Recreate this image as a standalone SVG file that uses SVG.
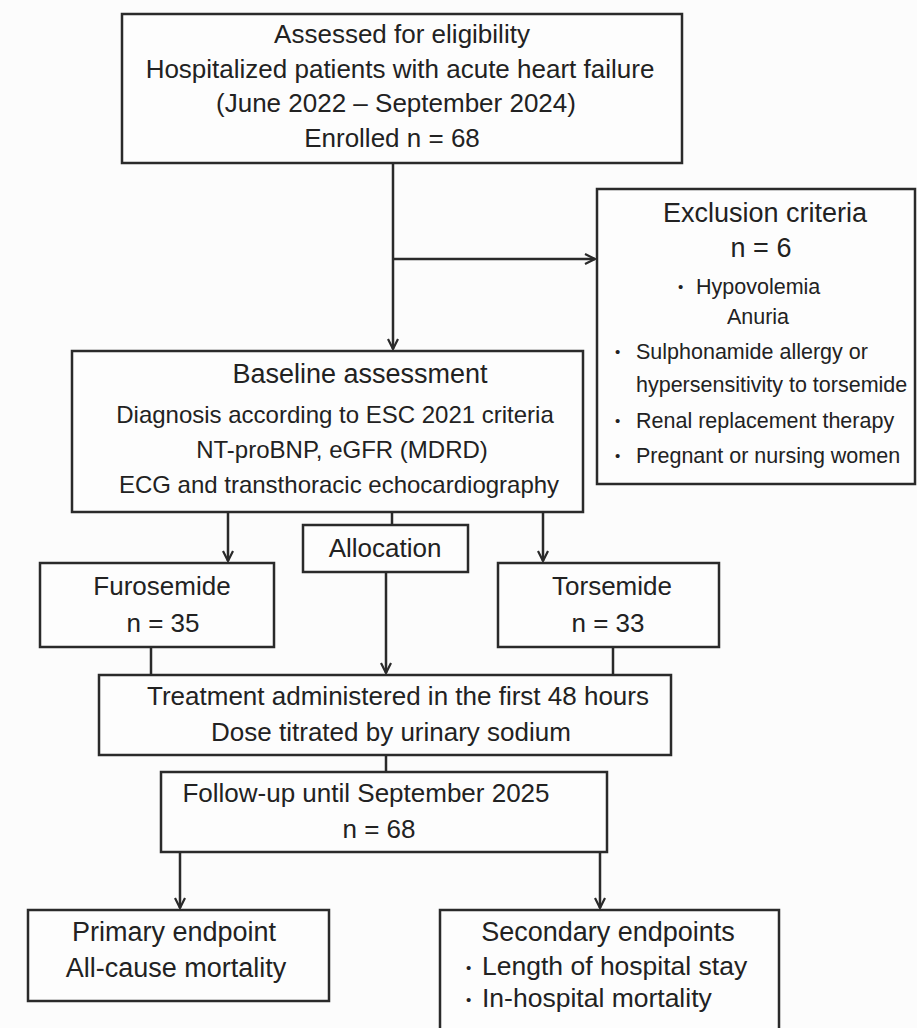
<svg xmlns="http://www.w3.org/2000/svg" width="917" height="1028" viewBox="0 0 917 1028">
<style>
.box{fill:#fdfdfd;stroke:#2a2a2a;stroke-width:2.5}
.t{font-family:"Liberation Sans",Arial,sans-serif;fill:#222;text-anchor:middle}
.s{font-family:"Liberation Sans",Arial,sans-serif;fill:#222}
.b{font-family:"Liberation Sans",Arial,sans-serif;fill:#222;font-size:15px}
.ln{stroke:#2a2a2a;stroke-width:2.5;fill:none}
</style>
<defs>
<marker id="ah" viewBox="0 0 12 12" refX="11" refY="6" markerWidth="12" markerHeight="12" markerUnits="userSpaceOnUse" orient="auto">
<path d="M1,1 L11,6 L1,11" fill="none" stroke="#2a2a2a" stroke-width="2.2"/>
</marker>
</defs>
<rect width="917" height="1028" fill="#fcfcfc"/>
<g id="connectors">
<line class="ln" x1="393" y1="164" x2="393" y2="349" marker-end="url(#ah)"/>
<line class="ln" x1="393" y1="259" x2="595" y2="259" marker-end="url(#ah)"/>
<line class="ln" x1="228" y1="512" x2="228" y2="561" marker-end="url(#ah)"/>
<line class="ln" x1="543" y1="512" x2="543" y2="561" marker-end="url(#ah)"/>
<line class="ln" x1="392" y1="512" x2="392" y2="525"/>
<line class="ln" x1="386" y1="572" x2="386" y2="673" marker-end="url(#ah)"/>
<line class="ln" x1="151" y1="647" x2="151" y2="675"/>
<line class="ln" x1="613" y1="647" x2="613" y2="675"/>
<line class="ln" x1="386" y1="755" x2="386" y2="772"/>
<line class="ln" x1="180" y1="852" x2="180" y2="908" marker-end="url(#ah)"/>
<line class="ln" x1="600" y1="852" x2="600" y2="908" marker-end="url(#ah)"/>
</g>
<g id="eligibility">
<rect class="box" x="122" y="14" width="560" height="149"/>
<text class="t" font-size="26" x="402" y="43">Assessed for eligibility</text>
<text class="t" font-size="26" x="400" y="78">Hospitalized patients with acute heart failure</text>
<text class="t" font-size="26" x="396" y="112">(June 2022 – September 2024)</text>
<text class="t" font-size="26" x="392" y="147">Enrolled n = 68</text>
</g>
<g id="exclusion">
<rect class="box" x="597" y="189" width="318" height="295"/>
<text class="t" font-size="27" x="765" y="222">Exclusion criteria</text>
<text class="t" font-size="27" x="761" y="257">n = 6</text>
<text class="b" x="678" y="292">•</text>
<text class="s" font-size="21.5" x="696" y="294">Hypovolemia</text>
<text class="t" font-size="21.5" x="758" y="324">Anuria</text>
<text class="b" x="615" y="357">•</text>
<text class="s" font-size="21.5" x="636" y="359">Sulphonamide allergy or</text>
<text class="s" font-size="21.5" x="636" y="392">hypersensitivity to torsemide</text>
<text class="b" x="615" y="426">•</text>
<text class="s" font-size="21.5" x="636" y="428">Renal replacement therapy</text>
<text class="b" x="615" y="461">•</text>
<text class="s" font-size="21.5" x="636" y="463">Pregnant or nursing women</text>
</g>
<g id="baseline">
<rect class="box" x="72" y="351" width="511" height="161"/>
<text class="t" font-size="27" x="360" y="383">Baseline assessment</text>
<text class="t" font-size="24" x="335" y="423">Diagnosis according to ESC 2021 criteria</text>
<text class="t" font-size="24" x="342" y="458">NT-proBNP, eGFR (MDRD)</text>
<text class="t" font-size="24" x="339" y="493">ECG and transthoracic echocardiography</text>
</g>
<g id="allocation">
<rect class="box" x="303" y="525" width="165" height="47"/>
<text class="t" font-size="26" x="385" y="557">Allocation</text>
</g>
<g id="furosemide">
<rect class="box" x="40" y="563" width="234" height="84"/>
<text class="t" font-size="26" x="162" y="595">Furosemide</text>
<text class="t" font-size="26" x="163" y="632">n = 35</text>
</g>
<g id="torsemide">
<rect class="box" x="498" y="563" width="221" height="84"/>
<text class="t" font-size="26" x="612" y="595">Torsemide</text>
<text class="t" font-size="26" x="608" y="632">n = 33</text>
</g>
<g id="treatment">
<rect class="box" x="99" y="675" width="572" height="80"/>
<text class="t" font-size="26" x="398" y="705">Treatment administered in the first 48 hours</text>
<text class="t" font-size="26" x="391" y="741">Dose titrated by urinary sodium</text>
</g>
<g id="followup">
<rect class="box" x="161" y="772" width="446" height="80"/>
<text class="t" font-size="26" x="366" y="802">Follow-up until September 2025</text>
<text class="t" font-size="26" x="379" y="838">n = 68</text>
</g>
<g id="primary">
<rect class="box" x="28" y="910" width="301" height="91"/>
<text class="t" font-size="27" x="174" y="941">Primary endpoint</text>
<text class="t" font-size="27" x="176" y="977">All-cause mortality</text>
</g>
<g id="secondary">
<rect class="box" x="440" y="910" width="339" height="130"/>
<text class="t" font-size="27" x="608" y="941">Secondary endpoints</text>
<text class="b" font-size="17" x="466" y="973">•</text>
<text class="s" font-size="26.5" x="482" y="975">Length of hospital stay</text>
<text class="b" font-size="17" x="466" y="1005">•</text>
<text class="s" font-size="26.5" x="482" y="1007">In-hospital mortality</text>
</g>
</svg>
